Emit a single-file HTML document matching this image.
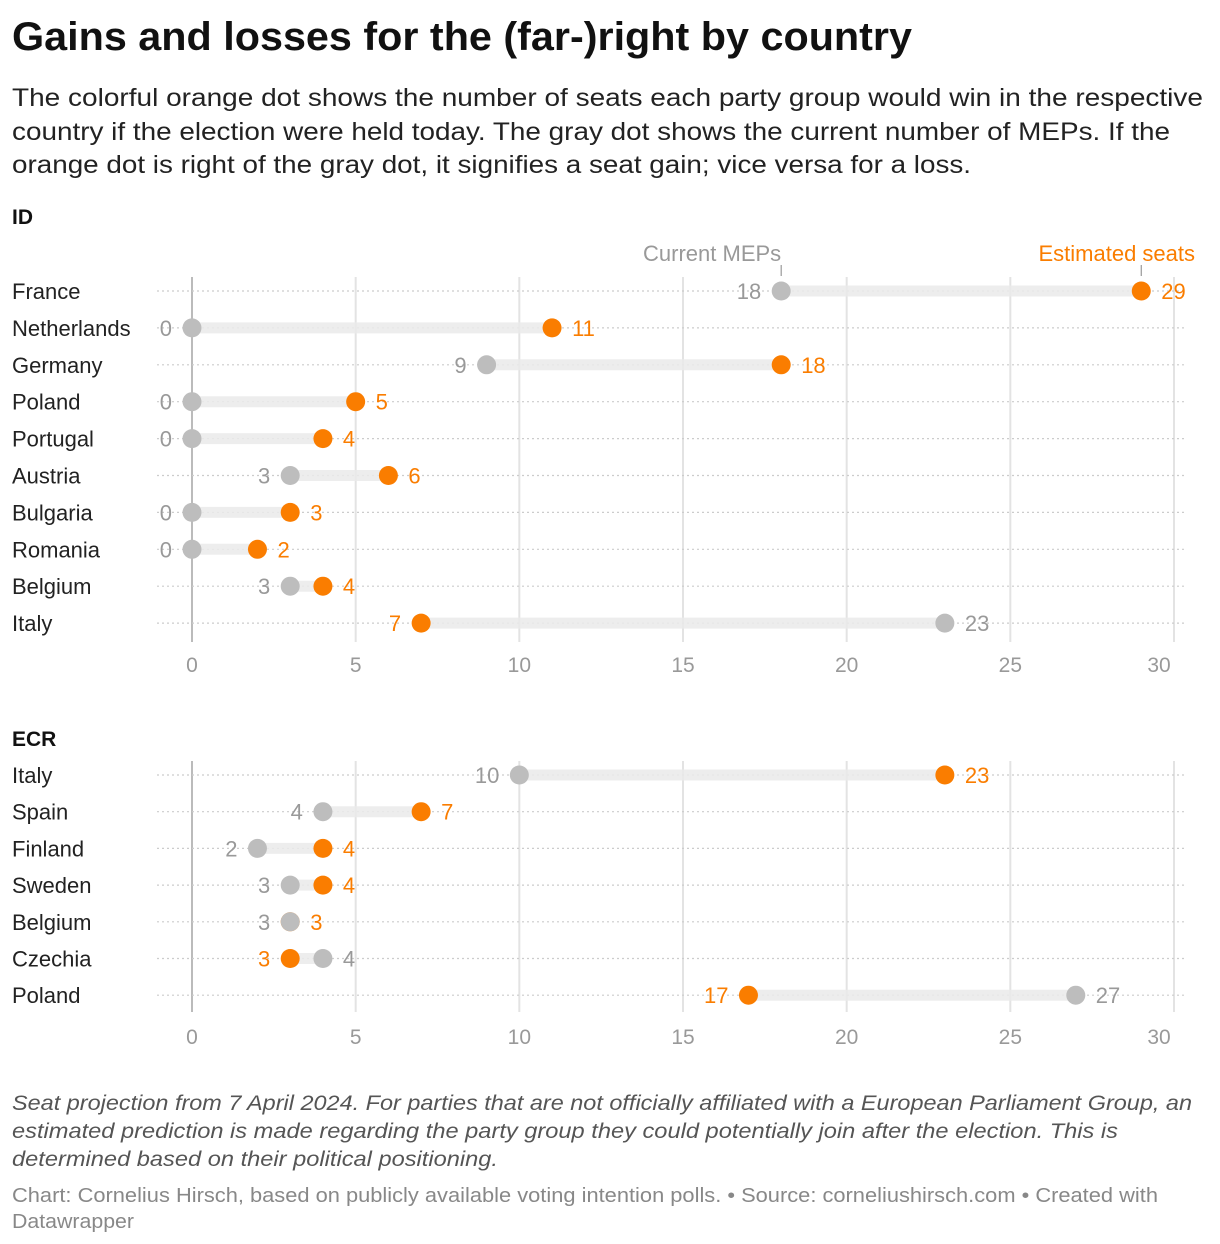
<!DOCTYPE html>
<html><head><meta charset="utf-8"><style>
html,body{margin:0;padding:0;background:#fff}
svg{display:block;font-family:"Liberation Sans",sans-serif}
</style></head><body>
<svg id="c" width="1220" height="1244" viewBox="0 0 1220 1244">
<text x="12" y="50" font-size="40" font-weight="bold" fill="#111" textLength="900" lengthAdjust="spacingAndGlyphs">Gains and losses for the (far-)right by country</text>
<g font-size="25" fill="#222">
<text x="12" y="106" textLength="1191" lengthAdjust="spacingAndGlyphs">The colorful orange dot shows the number of seats each party group would win in the respective</text>
<text x="12" y="140" textLength="1158" lengthAdjust="spacingAndGlyphs">country if the election were held today. The gray dot shows the current number of MEPs. If the</text>
<text x="12" y="173" textLength="959" lengthAdjust="spacingAndGlyphs">orange dot is right of the gray dot, it signifies a seat gain; vice versa for a loss.</text>
</g>
<g id="panels"></g>
<g font-size="21" font-style="italic" fill="#555">
<text x="12" y="1110" textLength="1180" lengthAdjust="spacingAndGlyphs">Seat projection from 7 April 2024. For parties that are not officially affiliated with a European Parliament Group, an</text>
<text x="12" y="1138" textLength="1106" lengthAdjust="spacingAndGlyphs">estimated prediction is made regarding the party group they could potentially join after the election. This is</text>
<text x="12" y="1166" textLength="486" lengthAdjust="spacingAndGlyphs">determined based on their political positioning.</text>
</g>
<g font-size="20" fill="#888">
<text x="12" y="1202" textLength="1146" lengthAdjust="spacingAndGlyphs">Chart: Cornelius Hirsch, based on publicly available voting intention polls. • Source: corneliushirsch.com • Created with</text>
<text x="12" y="1228" textLength="122" lengthAdjust="spacingAndGlyphs">Datawrapper</text>
</g>
</svg>
<script>
const idCountries=["France","Netherlands","Germany","Poland","Portugal","Austria","Bulgaria","Romania","Belgium","Italy"];
const idCurrent=[18,0,9,0,0,3,0,0,3,23];
const idEstimated=[29,11,18,5,4,6,3,2,4,7];
const ecrCountries=["Italy","Spain","Finland","Sweden","Belgium","Czechia","Poland"];
const ecrCurrent=[10,4,2,3,3,4,27];
const ecrEstimated=[23,7,4,4,3,3,17];
const tickValues=[0,5,10,15,20,25,30];
const tickLabels=["0","5","10","15","20","25","30"];

const NS="http://www.w3.org/2000/svg";
const root=document.getElementById('panels');
const GRAY="#bdbdbd",GRAYT="#999",OR="#fa7d00";
function x(v){return 192+v*(1174-192)/30;}
function mk(tag,attrs,parent,text){const e=document.createElementNS(NS,tag);for(const k in attrs)e.setAttribute(k,attrs[k]);if(text!==undefined)e.textContent=text;parent.appendChild(e);return e;}

function panel(name,title,titleY,firstRow,rowStep,gridTop,gridBottom,tickY,countries,cur,est,annot){
  const g=mk('g',{},root);
  
  
  const t=mk('text',{x:12,y:titleY,'font-size':21,'font-weight':'bold',fill:'#111'},g,title);
  
  
  tickValues.forEach((v,i)=>{
    const l=mk('line',{x1:x(v),x2:x(v),y1:gridTop,y2:gridBottom,stroke:v===0?'#bbb':'#e3e3e3','stroke-width':2},g);
    
    
    const tx=i===tickValues.length-1?x(v)-15:x(v);
    const tl=mk('text',{x:tx,y:tickY+8,'font-size':21,fill:'#999','text-anchor':'middle'},g,tickLabels[i]);
    
    
  });
  countries.forEach((c,i)=>{
    const y=firstRow+i*rowStep;
    const d=mk('line',{x1:157,x2:1187,y1:y,y2:y,stroke:'#ccc','stroke-width':1.2,'stroke-dasharray':'2 3'},g);
    
    
    const lab=mk('text',{x:12,y:y+8,'font-size':22,fill:'#222'},g,c);
    
    
    const a=cur[i],b=est[i];
    const band=mk('line',{x1:x(Math.min(a,b)),x2:x(Math.max(a,b)),y1:y,y2:y,stroke:'#ebebeb','stroke-width':11,opacity:0.85},g);
    
    
    const d2=mk('circle',{cx:x(b),cy:y,r:9.5,fill:OR},g);
    
    
    const d1=mk('circle',{cx:x(a),cy:y,r:9.5,fill:GRAY},g);
    
    
    const curLeft=a<=b;
    const l1=mk('text',{x:curLeft?x(a)-20:x(a)+20,y:y+8,'font-size':22,fill:GRAYT,'text-anchor':curLeft?'end':'start'},g,String(a));
    
    
    const l2=mk('text',{x:curLeft?x(b)+20:x(b)-20,y:y+8,'font-size':22,fill:OR,'text-anchor':curLeft?'start':'end'},g,String(b));
    
    
  });
  if(annot){
    const y=firstRow;
    const a1=mk('text',{x:x(cur[0]),y:y-30,'font-size':22,fill:GRAYT,'text-anchor':'end'},g,'Current MEPs');
    
    
    mk('line',{x1:x(cur[0]),x2:x(cur[0]),y1:y-26,y2:y-15,stroke:'#999','stroke-width':1.2},g);
    const a2=mk('text',{x:1195,y:y-30,'font-size':22,fill:OR,'text-anchor':'end'},g,'Estimated seats');
    
    
    mk('line',{x1:x(est[0]),x2:x(est[0]),y1:y-26,y2:y-15,stroke:'#999','stroke-width':1.2},g);
  }
}
panel('id','ID',224,291,36.9,277,642,664,idCountries,idCurrent,idEstimated,true);
panel('ecr','ECR',746,775,36.7,761,1012,1036,ecrCountries,ecrCurrent,ecrEstimated,false);
</script>
</body></html>
